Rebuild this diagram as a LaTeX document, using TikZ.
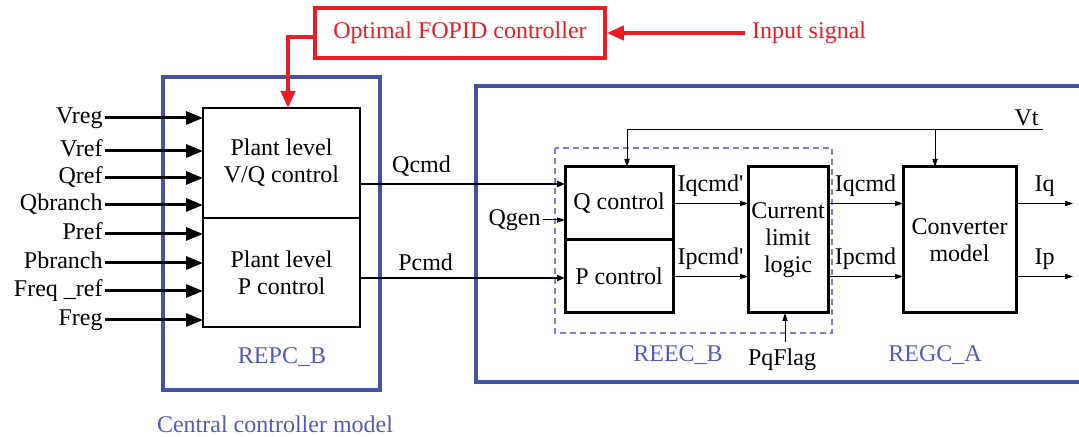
\documentclass[tikz,border=0pt]{standalone}
\usepackage{fontspec}
\setmainfont{Liberation Serif}
\usepackage{tikz}
\usetikzlibrary{arrows.meta, positioning}
\usepackage{xcolor}
\definecolor{frameblue}{RGB}{68,84,164}
\definecolor{labelblue}{RGB}{82,92,180}
\definecolor{dashblue}{RGB}{128,128,210}
\definecolor{fopidred}{RGB}{237,28,36}

\begin{document}
\begin{tikzpicture}[x=0.5pt, y=-0.5pt, font=\fontsize{12}{13.5}\selectfont,
  frame/.style={frameblue, line width=2.2pt},
  blk/.style={draw, line width=1pt, inner sep=0pt, outer sep=0pt, align=center},
  inlab/.style={left, inner sep=1pt, text height=1.5ex, text depth=0.25ex},
  sig/.style={-{Triangle[length=8.5pt, width=6.5pt]}, line width=1.5pt},
  cmd/.style={-{Triangle[length=4pt, width=3pt]}, line width=1pt},
  thinsig/.style={-{Triangle[length=4pt, width=2.6pt]}, line width=0.5pt},
  redsig/.style={fopidred, -{Triangle[length=8.5pt, width=7pt]}, line width=2pt},
  tag/.style={text=labelblue}]
  \useasboundingbox (0,0) rectangle (1079,437);
  % Central controller
  \draw[frame] (163,77) rectangle (380,390);
  \node[blk, minimum width=78.5pt, minimum height=55pt] (plantq) at (281.5,163) {Plant level\\V/Q control};
  \node[blk, minimum width=78.5pt, minimum height=54.5pt, anchor=north] (plantp) at (plantq.south) {Plant level\\P control};
  \foreach \lab/\y [count=\i] in {Vreg/118, Vref/151, Qref/178, Qbranch/205}{
    \node[inlab] (inq\i) at (105,\y) {\lab};
    \draw[sig] (inq\i.east) -- (inq\i.east -| plantq.west);
  }
  \foreach \lab/\y [count=\i] in {Pref/234, Pbranch/263, Freq \_ref/291, Freg/320}{
    \node[inlab] (inp\i) at (105,\y) {\lab};
    \draw[sig] (inp\i.east) -- (inp\i.east -| plantp.west);
  }
  \node[tag] (repc) at (282,357) {REPC\_B};
  \node[tag] (central) at (275,424) {Central controller model};
  % FOPID
  \node[draw=fopidred, line width=1.8pt, text=fopidred, minimum width=145pt, minimum height=25pt, inner sep=0pt] (fopid) at (460,33) {Optimal FOPID controller};
  \draw[redsig] (fopid.west |- 0,37) -| (plantq.north -| 288,0);
  \node[right, text=fopidred] (insig) at (745,33) {Input signal};
  \draw[redsig] (insig.west) -- (fopid.east);
  % Electrical controller and generator
  \draw[frame] (1082,86) -- (476,86) -- (476,382) -- (1082,382);
  \draw[dashblue, line width=0.6pt, dash pattern=on 3pt off 2pt] (555,148) rectangle (832,333);
  \node[blk, line width=1.5pt, minimum width=54pt, minimum height=36.5pt] (qctrl) at (619,203.5) {Q control};
  \node[blk, line width=1.5pt, minimum width=54pt, minimum height=36.5pt, anchor=north] (pctrl) at (qctrl.south) {P control};
  \node[blk, line width=1.5pt, minimum width=40pt, minimum height=73pt] (climit) at (788,240) {Current\\limit\\logic};
  \node[blk, line width=1.5pt, minimum width=56.5pt, minimum height=73pt] (conv) at (959.5,240) {Converter\\model};
  \draw[cmd] (plantq.east |- 0,184) -- node[pos=0.3, above] {Qcmd} (qctrl.west |- 0,184);
  \draw[cmd] (plantp.east |- 0,278) -- node[pos=0.32, above] {Pcmd} (pctrl.west |- 0,278);
  \node[inlab] (qgen) at (543,220) {Qgen};
  \draw[thinsig] (qgen.east) -- (qgen.east -| qctrl.west);
  % Vt
  \coordinate (vtend) at (1043,130);
  \coordinate (vtjoin) at (935,130);
  \node[above left, inner sep=2pt] (vt) at (vtend) {Vt};
  \draw[thinsig] (vtend) -| (qctrl.north -| 627,0);
  \draw[thinsig] (vtjoin) -- (conv.north -| vtjoin);
  % currents
  \draw[thinsig] (qctrl.east) -- node[above] {Iqcmd\textquotesingle} (qctrl.east -| climit.west);
  \draw[thinsig] (pctrl.east) -- node[above] {Ipcmd\textquotesingle} (pctrl.east -| climit.west);
  \draw[thinsig] (climit.east |- qctrl.east) -- node[above] {Iqcmd} (conv.west |- qctrl.east);
  \draw[thinsig] (climit.east |- pctrl.east) -- node[above] {Ipcmd} (conv.west |- pctrl.east);
  \coordinate (iqout) at (1073,203.5);
  \coordinate (ipout) at (1073,276.5);
  \draw[thinsig] (conv.east |- iqout) -- node[above] {Iq} (iqout);
  \draw[thinsig] (conv.east |- ipout) -- node[above] {Ip} (ipout);
  \node (pqflag) at (782,360) {PqFlag};
  \draw[thinsig] (pqflag.north -| 785,0) -- (climit.south -| 785,0);
  \node[tag] (reec) at (678,355) {REEC\_B};
  \node[tag] (regc) at (935,355) {REGC\_A};
\end{tikzpicture}
\end{document}
